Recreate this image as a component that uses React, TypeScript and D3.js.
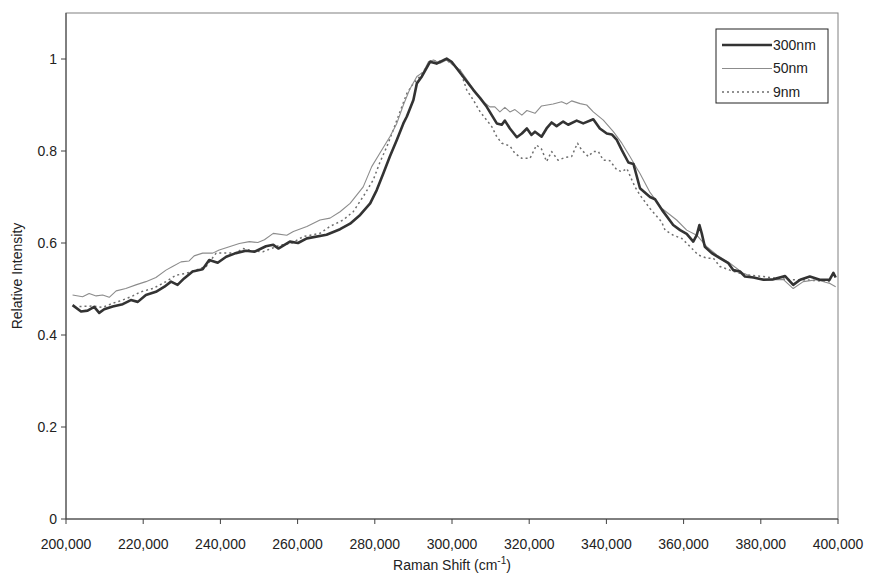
import React from 'react';
import { scaleLinear, line, curveLinear, format } from 'd3';

// raman shift / relative intensity pairs
const nm300: [number, number][] = [
  [201700, 0.465], [203900, 0.451], [205600, 0.453], [207300, 0.461], [208600, 0.448],
  [209900, 0.456], [212100, 0.462], [214700, 0.467], [216800, 0.476], [218600, 0.472],
  [220700, 0.487], [223300, 0.494], [225500, 0.505], [227200, 0.516], [228900, 0.509],
  [230600, 0.523], [232800, 0.538], [235400, 0.543], [237100, 0.563], [239300, 0.557],
  [241500, 0.570], [244000, 0.578], [246600, 0.583], [248800, 0.581], [251800, 0.593],
  [253700, 0.596], [255000, 0.588], [258000, 0.603], [260100, 0.600], [262400, 0.610],
  [267500, 0.618], [271000, 0.630], [273600, 0.642], [276200, 0.661], [278800, 0.686],
  [280500, 0.715], [282200, 0.751], [283900, 0.788], [285700, 0.824], [287400, 0.860],
  [288300, 0.875], [290000, 0.911], [290900, 0.947], [292200, 0.962], [293400, 0.980],
  [294300, 0.994], [296000, 0.990], [298600, 1.001], [299900, 0.994], [301200, 0.980],
  [305500, 0.933], [307300, 0.915], [309000, 0.896], [310300, 0.878], [311600, 0.860],
  [312900, 0.857], [313700, 0.866], [315000, 0.849], [316800, 0.830], [318100, 0.838],
  [319400, 0.849], [320600, 0.835], [321500, 0.842], [323200, 0.831], [324500, 0.849],
  [325800, 0.862], [327100, 0.854], [328800, 0.864], [330100, 0.857], [332300, 0.866],
  [334000, 0.860], [336600, 0.869], [338300, 0.849], [340100, 0.838], [341400, 0.836],
  [342700, 0.824], [344000, 0.802], [345700, 0.775], [347000, 0.772], [347900, 0.744],
  [348700, 0.719], [351300, 0.700], [352600, 0.695], [354400, 0.672], [357300, 0.639],
  [359100, 0.628], [360800, 0.620], [362500, 0.603], [363400, 0.617], [364100, 0.639],
  [364700, 0.621], [365500, 0.592], [367300, 0.578], [369400, 0.567], [371600, 0.556],
  [372900, 0.541], [374600, 0.538], [375900, 0.527], [378100, 0.525], [380700, 0.520],
  [383200, 0.521], [386300, 0.528], [388400, 0.509], [390200, 0.520], [392700, 0.527],
  [395300, 0.520], [397800, 0.520], [398800, 0.535], [399400, 0.525],
];

const nm50: [number, number][] = [
  [201700, 0.487], [204300, 0.483], [206000, 0.490], [207800, 0.485], [209500, 0.487],
  [211200, 0.482], [213000, 0.496], [215500, 0.501], [218100, 0.509], [220700, 0.516],
  [223300, 0.525], [225900, 0.541], [227600, 0.549], [229800, 0.559], [231900, 0.561],
  [233200, 0.572], [235400, 0.578], [238000, 0.578], [239700, 0.585], [242300, 0.592],
  [244900, 0.599], [247500, 0.603], [249700, 0.601], [251400, 0.607], [253700, 0.621],
  [257200, 0.617], [258900, 0.625], [262400, 0.636], [265800, 0.650], [268400, 0.654],
  [271000, 0.668], [273600, 0.686], [277000, 0.722], [279200, 0.766], [281300, 0.795],
  [283900, 0.831], [285700, 0.860], [287400, 0.900], [289100, 0.935], [290900, 0.962],
  [292600, 0.972], [293900, 0.994], [295200, 0.998], [296900, 0.991], [298600, 0.998],
  [300300, 0.987], [302100, 0.976], [306400, 0.925], [308100, 0.907], [309800, 0.896],
  [311100, 0.896], [312400, 0.885], [313700, 0.895], [315000, 0.885], [316300, 0.890],
  [318100, 0.878], [319400, 0.888], [321500, 0.882], [323200, 0.898], [326200, 0.902],
  [328400, 0.907], [329700, 0.902], [331000, 0.909], [333200, 0.903], [334900, 0.900],
  [336600, 0.885], [339200, 0.867], [341800, 0.842], [344000, 0.817], [346100, 0.788],
  [347900, 0.762], [348700, 0.751], [351300, 0.710], [354400, 0.675], [358200, 0.650],
  [360800, 0.628], [363400, 0.617], [366000, 0.592], [368600, 0.574], [372000, 0.556],
  [375500, 0.534], [378900, 0.523], [382400, 0.520], [385800, 0.521], [388400, 0.501],
  [391000, 0.516], [394500, 0.520], [397900, 0.512], [399400, 0.505],
];

const nm9: [number, number][] = [
  [203500, 0.462], [206900, 0.463], [209500, 0.460], [212100, 0.469], [214700, 0.476],
  [217300, 0.485], [219400, 0.494], [222500, 0.501], [225900, 0.516], [228500, 0.530],
  [231100, 0.534], [233700, 0.541], [236300, 0.549], [238900, 0.578], [241500, 0.578],
  [244000, 0.578], [245800, 0.588], [248400, 0.583], [251000, 0.581], [255400, 0.595],
  [258500, 0.600], [261500, 0.614], [265800, 0.621], [268400, 0.636], [271800, 0.650],
  [274400, 0.668], [277000, 0.701], [279600, 0.737], [281300, 0.775], [283100, 0.809],
  [284800, 0.846], [286500, 0.885], [288300, 0.925], [290000, 0.947], [291700, 0.962],
  [293400, 0.983], [294700, 0.998], [296500, 0.994], [298200, 0.999], [299900, 0.990],
  [302100, 0.976], [303800, 0.933], [305500, 0.911], [307300, 0.885], [309000, 0.867],
  [310300, 0.853], [311600, 0.831], [312900, 0.817], [315000, 0.811], [316300, 0.795],
  [318100, 0.784], [320200, 0.784], [321900, 0.813], [323200, 0.804], [324500, 0.777],
  [325800, 0.799], [327500, 0.780], [329300, 0.786], [331000, 0.788], [332500, 0.817],
  [333600, 0.802], [335300, 0.788], [336600, 0.799], [337900, 0.799], [339200, 0.780],
  [340900, 0.779], [342700, 0.759], [344000, 0.755], [345300, 0.762], [346600, 0.737],
  [347400, 0.722], [348700, 0.704], [351300, 0.675], [354300, 0.646], [355200, 0.628],
  [357300, 0.617], [359500, 0.610], [361700, 0.592], [363800, 0.574], [366000, 0.567],
  [367700, 0.567], [369400, 0.549], [372000, 0.541], [374600, 0.534], [377200, 0.530],
  [380700, 0.527], [384100, 0.523], [387600, 0.520], [391000, 0.520], [394500, 0.518],
  [397900, 0.516],
];

const xTicks = [200000, 220000, 240000, 260000, 280000, 300000, 320000, 340000, 360000, 380000, 400000];
const yTicks = [0, 0.2, 0.4, 0.6, 0.8, 1];

const series = [
  { name: '300nm', data: nm300, color: '#333333', width: 2.6, dash: undefined as string | undefined },
  { name: '50nm', data: nm50, color: '#8c8c8c', width: 1.1, dash: undefined as string | undefined },
  { name: '9nm', data: nm9, color: '#6e6e6e', width: 1.5, dash: '2,3' },
];

const W = 878;
const H = 575;
const m = { left: 66, right: 40, top: 13, bottom: 56 };
const font = 'Liberation Sans, Arial, sans-serif';

export default function App() {
  const x = scaleLinear().domain([200000, 400000]).range([m.left, W - m.right]);
  const y = scaleLinear().domain([0, 1.1]).range([H - m.bottom, m.top]);
  const path = line<[number, number]>().x(d => x(d[0])).y(d => y(d[1])).curve(curveLinear);
  const fmt = format(',');
  const y0 = y(0);

  return (
    <svg width={W} height={H} style={{ position: 'absolute', left: 0, top: 0, background: '#fff' }} fontFamily={font}>
      {/* plot frame */}
      <rect x={m.left} y={m.top} width={W - m.right - m.left} height={y0 - m.top} fill="none" stroke="#808080" strokeWidth={1} />
      <line x1={m.left} x2={m.left} y1={m.top} y2={y0} stroke="#404040" />
      <line x1={m.left} x2={W - m.right} y1={y0} y2={y0} stroke="#404040" />

      {yTicks.map(t => (
        <g key={t}>
          <line x1={m.left - 5} x2={m.left} y1={y(t)} y2={y(t)} stroke="#404040" />
          <text x={m.left - 9} y={y(t)} dy="0.35em" textAnchor="end" fontSize={14} fill="#222">{t}</text>
        </g>
      ))}
      {xTicks.map(t => (
        <g key={t}>
          <line x1={x(t)} x2={x(t)} y1={y0} y2={y0 + 5} stroke="#404040" />
          <text x={x(t)} y={y0 + 30} textAnchor="middle" fontSize={14} fill="#222">{fmt(t)}</text>
        </g>
      ))}

      {series.slice().reverse().map(s => (
        <path key={s.name} d={path(s.data) || ''} fill="none" stroke={s.color} strokeWidth={s.width}
          strokeDasharray={s.dash} strokeLinejoin="round" />
      ))}

      <text transform={`translate(22,${(m.top + y0) / 2 + 10}) rotate(-90)`} textAnchor="middle" fontSize={14} fill="#222">
        Relative Intensity
      </text>
      <text x={(m.left + W - m.right) / 2} y={H - 5} textAnchor="middle" fontSize={14} fill="#222">
        Raman Shift (cm<tspan fontSize={10} dy={-6}>-1</tspan><tspan dy={6}>)</tspan>
      </text>

      {/* legend */}
      <rect x={716} y={29} width={112} height={74} fill="#fff" stroke="#222" strokeWidth={1} />
      {series.map((s, i) => (
        <g key={s.name} transform={`translate(722,${45 + i * 23.5})`}>
          <line x1={0} x2={50} y1={0} y2={0} stroke={s.color} strokeWidth={s.width} strokeDasharray={s.dash} />
          <text x={51} y={0} dy="0.35em" fontSize={14} fill="#222">{s.name}</text>
        </g>
      ))}
    </svg>
  );
}
